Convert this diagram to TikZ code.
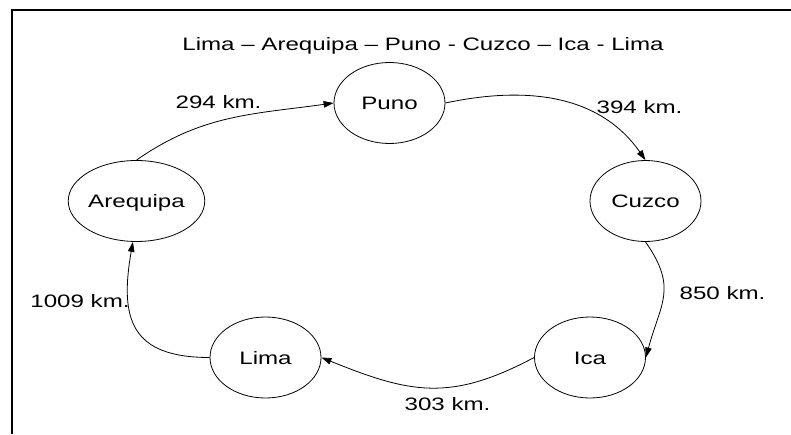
\documentclass[tikz,border=0pt]{standalone}
\usepackage{fontspec}
\setmainfont{Liberation Sans}[FakeStretch=1.34]
\usetikzlibrary{arrows.meta,shapes.geometric}
\begin{document}
\begin{tikzpicture}[x=1pt,y=1pt,
  city/.style={ellipse,draw,line width=0.8pt,minimum width=111pt,minimum height=81pt,inner sep=0pt,text height=13pt,text depth=0pt,font=\fontsize{18}{21}\selectfont},
  road/.style={line width=0.8pt,-{Triangle[length=10pt,width=6.5pt]}},
  lbl/.style={anchor=base,inner sep=0pt,font=\fontsize{18}{21}\selectfont}]
\useasboundingbox (0,0) rectangle (791,434);
\draw[line width=1.6pt] (12,0) -- (12,424) -- (791,424);
\node[city] (puno) at (389.5,331) {Puno};
\node[city] (cuz) at (645.5,233) {Cuzco};
\node[city] (are) at (136.5,233) {Arequipa};
\node[city] (lima) at (265.5,76.5) {Lima};
\node[city] (ica) at (590,76.5) {Ica};
\node[lbl] (title) at (423,383) {Lima – Arequipa – Puno - Cuzco – Ica - Lima};
\node[lbl] (d1) at (218.5,325) {294 km.};
\node[lbl] (d2) at (639.5,320) {394 km.};
\node[lbl] (d3) at (722.5,135) {850 km.};
\node[lbl] (d4) at (447.5,24) {303 km.};
\node[lbl] (d5) at (80,127) {1009 km.};
\draw[road] (are.north) to[out=35,in=188] (puno.west);
\draw[road] (puno.east) to[out=12,in=125] (cuz.north);
\draw[road] (cuz.south) to[out=-55,in=75,looseness=1.25] (ica.east);
\draw[road] (ica.west) to[out=208,in=-22,looseness=1.15] (lima.east);
\draw[road] (lima.west) to[out=180,in=-100,looseness=1.45] (are.265);
\end{tikzpicture}
\end{document}
